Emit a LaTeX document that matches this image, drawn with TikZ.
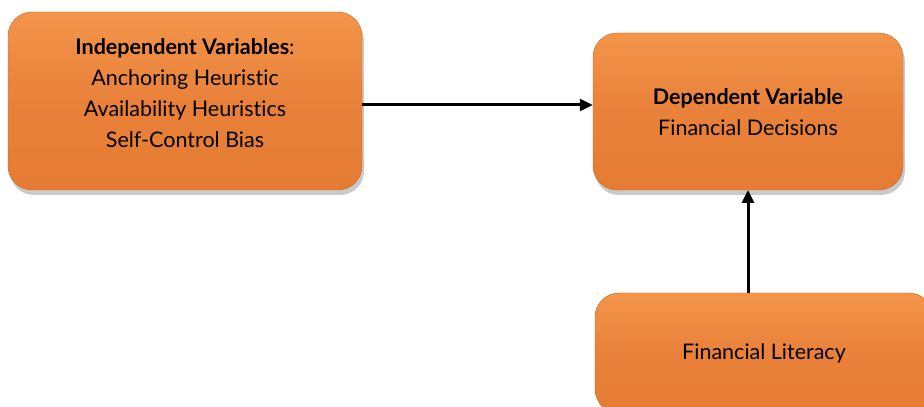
\documentclass[tikz,border=0pt]{standalone}
\usepackage{fontspec}
\setmainfont{Lato}[Ligatures=NoCommon]
\usetikzlibrary{shadows,arrows.meta}
\definecolor{orTop}{HTML}{F3944A}
\definecolor{orMid}{HTML}{E9813A}
\definecolor{orBot}{HTML}{E67C33}
\tikzset{
  obox/.style={rounded corners=24pt, draw=orBot!85!black, line width=0.4pt,
    top color=orTop, bottom color=orBot, middle color=orMid,
    drop shadow={shadow xshift=2pt, shadow yshift=-5pt, opacity=0.35, fill=black!60},
    inner sep=0pt},
  btext/.style={align=center, text=black, font=\fontsize{21.5}{31}\selectfont, inner sep=0pt},
  conn/.style={-{Triangle[length=13pt,width=12pt]}, line width=3pt, black}
}
\begin{document}
\begin{tikzpicture}[x=1pt,y=1pt]
\useasboundingbox (0,0) rectangle (924,407);
\begin{scope}
\clip (0,0) rectangle (924,407);
\node[obox, minimum width=354pt, minimum height=178pt] (iv) at (185,306) {};
\node[btext] (ivt) at (185,313.5)
  {\textbf{Independent Variables}:\\Anchoring Heuristic\\Availability Heuristics\\Self-Control Bias};
\node[obox, minimum width=310pt, minimum height=157pt] (dv) at (748,295.5) {};
\node[btext] (dvt) at (748,295)
  {\textbf{Dependent Variable}\\Financial Decisions};
\node[obox, minimum width=338pt, minimum height=120pt] (fl) at (764,54) {};
\node[btext] (flt) at (764,54) {Financial Literacy};
\end{scope}
\draw[conn] (iv.east |- 0,302) -- (dv.west |- 0,302);
\draw[conn] (748,114) -- (748,217);
\end{tikzpicture}
\end{document}
